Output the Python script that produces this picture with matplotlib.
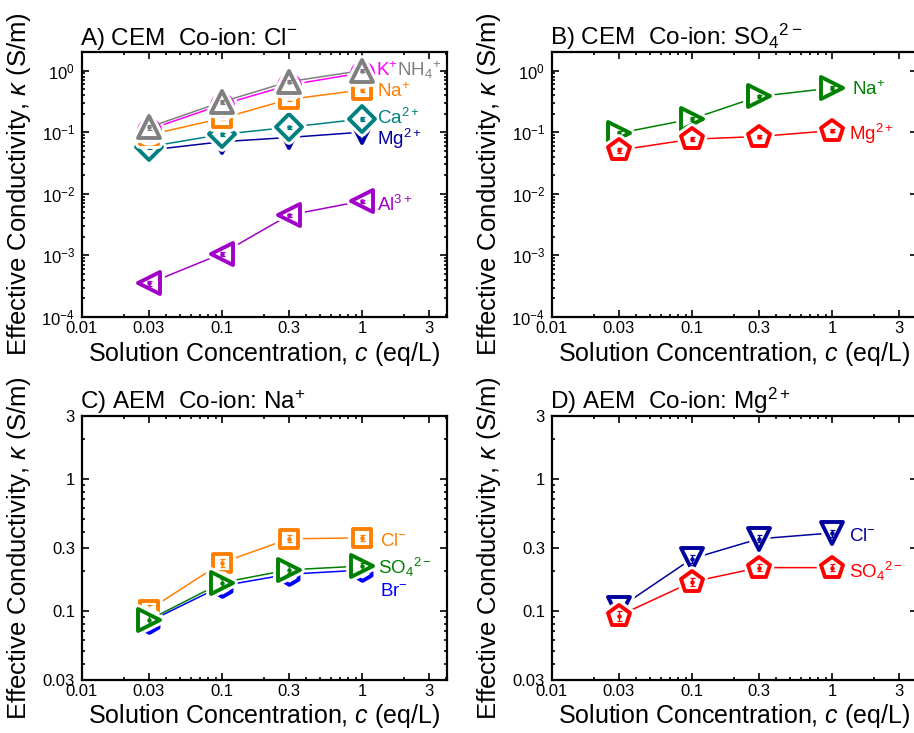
import numpy as np
import matplotlib
matplotlib.use("Agg")
import matplotlib.pyplot as plt
from matplotlib.markers import MarkerStyle
from matplotlib.ticker import FixedLocator, FixedFormatter, LogLocator, NullFormatter, LogFormatterSciNotation

plt.rcParams['font.family'] = ['Liberation Sans', 'DejaVu Sans']
plt.rcParams['mathtext.fontset'] = 'custom'
plt.rcParams['mathtext.rm'] = 'Liberation Sans'
plt.rcParams['mathtext.it'] = 'Liberation Sans:italic'
plt.rcParams['mathtext.bf'] = 'Liberation Sans:bold'

# concentrations (eq/L)
conc = [0.03, 0.1, 0.3, 1.0]

# A) CEM, co-ion Cl-
cem_cl_Al = [3.5e-4, 1.07e-3, 4.5e-3, 7.6e-3]
cem_cl_Mg = [0.051, 0.070, 0.082, 0.100]
cem_cl_Ca = [0.058, 0.092, 0.120, 0.164]
cem_cl_Na = [0.090, 0.168, 0.340, 0.485]
cem_cl_K = [0.110, 0.280, 0.580, 0.920]
cem_cl_NH4 = [0.120, 0.310, 0.660, 1.000]

# B) CEM, co-ion SO4 2-
cem_so4_Na = [0.096, 0.164, 0.380, 0.520]
cem_so4_Mg = [0.051, 0.077, 0.085, 0.106]

# C) AEM, co-ion Na+
aem_na_Cl = [0.102, 0.232, 0.352, 0.358]
aem_na_Br = [0.083, 0.155, 0.190, 0.204]
aem_na_SO4 = [0.0855, 0.164, 0.205, 0.219]

# D) AEM, co-ion Mg2+
aem_mg_Cl = [0.105, 0.249, 0.352, 0.390]
aem_mg_SO4 = [0.092, 0.166, 0.213, 0.213]

# relative error (fraction) of each point, small bars inside markers
rel_err = [0.09, 0.07, 0.06, 0.06]

x_ticks = [0.01, 0.03, 0.1, 0.3, 1, 3]
x_ticklabels = ['0.01', '0.03', '0.1', '0.3', '1', '3']
y_ticks_aem = [0.03, 0.1, 0.3, 1, 3]
y_ticklabels_aem = ['0.03', '0.1', '0.3', '1', '3']

ORANGE = '#FF7F00'
TEAL = '#008080'
NAVY = '#00009C'
PURPLE = '#A000C8'
GRAY = '#808080'
MAGENTA = '#FF00FF'
GREEN = '#008000'
RED = '#FF0000'
BLUE = '#0000FF'

fig = plt.figure(figsize=(9.14, 7.33), dpi=100)
W, H = 914, 733


def axes_px(left, top, right, bottom):
    return fig.add_axes([left / W, 1 - bottom / H, (right - left) / W, (bottom - top) / H])


axA = axes_px(82, 52, 447, 317)
axB = axes_px(552, 52, 917, 317)
axC = axes_px(82, 416, 447, 680)
axD = axes_px(552, 416, 917, 680)


def series(ax, y, color, marker, ms, z):
    y = np.array(y)
    m = MarkerStyle(marker, joinstyle='round')
    ax.plot(conc, y, '-', color=color, lw=1.1, zorder=z)
    ax.plot(conc, y, ls='none', marker=m, ms=ms, mfc='white', mec='white', mew=7, zorder=z + 0.1)
    ax.plot(conc, y, ls='none', marker=m, ms=ms, mfc='white', mec=color, mew=2.8, zorder=z + 0.2)
    ax.errorbar(conc, y, yerr=y * np.array(rel_err), fmt='none', ecolor=color,
                elinewidth=0.9, capsize=1.8, capthick=0.9, zorder=z + 0.3)
    ax.plot(conc, y, ls='none', marker='o', ms=2.2, color=color, zorder=z + 0.3)


def style(ax, ylim, aem=False):
    ax.set_xscale('log')
    ax.set_yscale('log')
    ax.set_xlim(0.01, 4.05)
    ax.set_ylim(*ylim)
    ax.xaxis.set_major_locator(FixedLocator(x_ticks))
    ax.xaxis.set_major_formatter(FixedFormatter(x_ticklabels))
    ax.xaxis.set_minor_locator(LogLocator(base=10, subs=np.arange(2, 10)))
    ax.xaxis.set_minor_formatter(NullFormatter())
    if aem:
        ax.yaxis.set_major_locator(FixedLocator(y_ticks_aem))
        ax.yaxis.set_major_formatter(FixedFormatter(y_ticklabels_aem))
    else:
        ax.yaxis.set_major_locator(LogLocator(base=10))
        ax.yaxis.set_major_formatter(LogFormatterSciNotation())
    ax.yaxis.set_minor_locator(LogLocator(base=10, subs=np.arange(2, 10)))
    ax.yaxis.set_minor_formatter(NullFormatter())
    ax.tick_params(which='both', direction='in', top=True, right=True, labelsize=12, width=1.2)
    ax.tick_params(which='major', length=5, pad=3)
    ax.tick_params(which='minor', length=2.5)
    ax.tick_params(axis='y', which='major', pad=5)
    for s in ax.spines.values():
        s.set_linewidth(1.6)
    ax.set_xlabel(r'Solution Concentration, $c$ (eq/L)', fontsize=18)
    ax.set_ylabel(r'Effective Conductivity, $\kappa$ (S/m)', fontsize=18.5)
    ax.xaxis.set_label_coords(0.5, -0.085)
    ax.yaxis.set_label_coords(-0.135, 0.5)


# panel A
series(axA, cem_cl_Al, PURPLE, '<', 16, 2)
series(axA, cem_cl_Mg, NAVY, 'v', 16, 3)
series(axA, cem_cl_Ca, TEAL, 'D', 13, 4)
series(axA, cem_cl_Na, ORANGE, 's', 13, 5)
series(axA, cem_cl_K, MAGENTA, 'o', 15, 6)
series(axA, cem_cl_NH4, GRAY, '^', 16, 7)
style(axA, (1e-4, 2.0))
lab = dict(fontsize=13.5, va='center', ha='left')
axA.text(1.25, 1.0, r'K$^{+}$', color=MAGENTA, zorder=10, **lab)
axA.text(1.78, 1.0, r'NH$_4$$^{+}$', color=GRAY, zorder=10, **lab)
axA.text(1.28, 0.45, r'Na$^{+}$', color=ORANGE, zorder=10, **lab)
axA.text(1.28, 0.17, r'Ca$^{2+}$', color=TEAL, zorder=10, **lab)
axA.text(1.28, 0.077, r'Mg$^{2+}$', color=NAVY, zorder=10, **lab)
axA.text(1.28, 6.6e-3, r'Al$^{3+}$', color=PURPLE, zorder=10, **lab)

# panel B
series(axB, cem_so4_Na, GREEN, '>', 16, 2)
series(axB, cem_so4_Mg, RED, 'p', 16, 3)
style(axB, (1e-4, 2.0))
axB.text(1.39, 0.485, r'Na$^{+}$', color=GREEN, **lab)
axB.text(1.33, 0.094, r'Mg$^{2+}$', color=RED, **lab)

# panel C
series(axC, aem_na_Cl, ORANGE, 's', 13, 2)
series(axC, aem_na_Br, BLUE, 'h', 15, 3)
series(axC, aem_na_SO4, GREEN, '>', 16, 4)
style(axC, (0.03, 3.0), aem=True)
axC.text(1.35, 0.336, r'Cl$^{-}$', color=ORANGE, zorder=10, **lab)
axC.text(1.3, 0.214, r'SO$_4$$^{2-}$', color=GREEN, zorder=10, **lab)
axC.text(1.35, 0.141, r'Br$^{-}$', color=BLUE, zorder=10, **lab)

# panel D
series(axD, aem_mg_Cl, NAVY, 'v', 16, 2)
series(axD, aem_mg_SO4, RED, 'p', 16, 3)
style(axD, (0.03, 3.0), aem=True)
axD.text(1.32, 0.366, r'Cl$^{-}$', color=NAVY, **lab)
axD.text(1.32, 0.2, r'SO$_4$$^{2-}$', color=RED, **lab)

titles = [(axA, r'A) CEM  Co-ion: Cl$^{-}$'),
          (axB, r'B) CEM  Co-ion: SO$_4$$^{2-}$'),
          (axC, r'C) AEM  Co-ion: Na$^{+}$'),
          (axD, r'D) AEM  Co-ion: Mg$^{2+}$')]
for ax, t in titles:
    ax.text(-0.005, 1.026, t, transform=ax.transAxes, fontsize=17.5, ha='left', va='baseline')

fig.savefig('out.png', dpi=100)
